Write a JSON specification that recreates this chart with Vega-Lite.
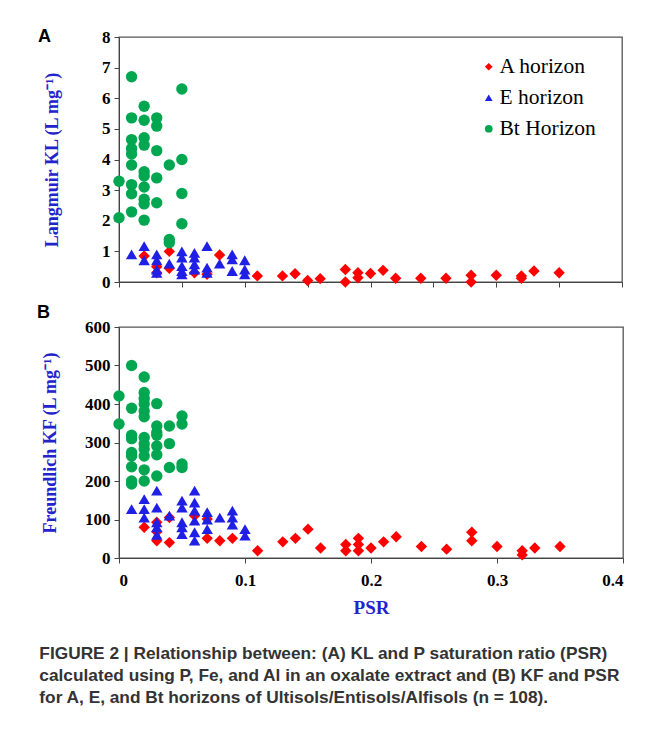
{
  "$schema": "https://vega.github.io/schema/vega-lite/v6.json",
  "background": "white",
  "padding": {"left": 36, "top": 27, "right": 5, "bottom": 5},
  "datasets": {
    "kl": [
      {"h":"A horizon","psr":0.02,"k":0.85},{"h":"A horizon","psr":0.03,"k":0.5},{"h":"A horizon","psr":0.03,"k":0.3},{"h":"A horizon","psr":0.04,"k":1.0},{"h":"A horizon","psr":0.04,"k":0.45},{"h":"A horizon","psr":0.06,"k":0.3},{"h":"A horizon","psr":0.07,"k":0.25},{"h":"A horizon","psr":0.08,"k":0.88},{"h":"A horizon","psr":0.11,"k":0.2},{"h":"A horizon","psr":0.13,"k":0.2},{"h":"A horizon","psr":0.14,"k":0.27},{"h":"A horizon","psr":0.15,"k":0.05},{"h":"A horizon","psr":0.16,"k":0.11},{"h":"A horizon","psr":0.18,"k":0.41},{"h":"A horizon","psr":0.18,"k":0.0},{"h":"A horizon","psr":0.19,"k":0.3},{"h":"A horizon","psr":0.19,"k":0.14},{"h":"A horizon","psr":0.2,"k":0.28},{"h":"A horizon","psr":0.21,"k":0.38},{"h":"A horizon","psr":0.22,"k":0.12},{"h":"A horizon","psr":0.24,"k":0.12},{"h":"A horizon","psr":0.26,"k":0.12},{"h":"A horizon","psr":0.28,"k":0.22},{"h":"A horizon","psr":0.28,"k":0.0},{"h":"A horizon","psr":0.3,"k":0.22},{"h":"A horizon","psr":0.32,"k":0.2},{"h":"A horizon","psr":0.32,"k":0.12},{"h":"A horizon","psr":0.33,"k":0.36},{"h":"A horizon","psr":0.35,"k":0.3},
      {"h":"E horizon","psr":0.01,"k":0.9},{"h":"E horizon","psr":0.02,"k":1.17},{"h":"E horizon","psr":0.02,"k":0.71},{"h":"E horizon","psr":0.03,"k":0.9},{"h":"E horizon","psr":0.03,"k":0.71},{"h":"E horizon","psr":0.03,"k":0.41},{"h":"E horizon","psr":0.03,"k":0.3},{"h":"E horizon","psr":0.04,"k":0.6},{"h":"E horizon","psr":0.05,"k":1.0},{"h":"E horizon","psr":0.05,"k":0.8},{"h":"E horizon","psr":0.05,"k":0.52},{"h":"E horizon","psr":0.05,"k":0.36},{"h":"E horizon","psr":0.05,"k":0.25},{"h":"E horizon","psr":0.06,"k":0.95},{"h":"E horizon","psr":0.06,"k":0.8},{"h":"E horizon","psr":0.06,"k":0.58},{"h":"E horizon","psr":0.06,"k":0.41},{"h":"E horizon","psr":0.07,"k":1.17},{"h":"E horizon","psr":0.07,"k":0.47},{"h":"E horizon","psr":0.07,"k":0.3},{"h":"E horizon","psr":0.08,"k":0.6},{"h":"E horizon","psr":0.09,"k":0.9},{"h":"E horizon","psr":0.09,"k":0.74},{"h":"E horizon","psr":0.09,"k":0.36},{"h":"E horizon","psr":0.1,"k":0.71},{"h":"E horizon","psr":0.1,"k":0.41},{"h":"E horizon","psr":0.1,"k":0.25},
      {"h":"Bt Horizon","psr":0.01,"k":6.7},{"h":"Bt Horizon","psr":0.05,"k":6.3},{"h":"Bt Horizon","psr":0.02,"k":5.74},{"h":"Bt Horizon","psr":0.01,"k":5.36},{"h":"Bt Horizon","psr":0.02,"k":5.28},{"h":"Bt Horizon","psr":0.03,"k":5.36},{"h":"Bt Horizon","psr":0.03,"k":5.09},{"h":"Bt Horizon","psr":0.01,"k":4.65},{"h":"Bt Horizon","psr":0.02,"k":4.71},{"h":"Bt Horizon","psr":0.02,"k":4.47},{"h":"Bt Horizon","psr":0.01,"k":4.36},{"h":"Bt Horizon","psr":0.01,"k":4.18},{"h":"Bt Horizon","psr":0.03,"k":4.29},{"h":"Bt Horizon","psr":0.01,"k":3.82},{"h":"Bt Horizon","psr":0.04,"k":3.82},{"h":"Bt Horizon","psr":0.05,"k":4.0},{"h":"Bt Horizon","psr":0.02,"k":3.6},{"h":"Bt Horizon","psr":0.02,"k":3.46},{"h":"Bt Horizon","psr":0.0,"k":3.29},{"h":"Bt Horizon","psr":0.03,"k":3.4},{"h":"Bt Horizon","psr":0.01,"k":3.18},{"h":"Bt Horizon","psr":0.02,"k":3.1},{"h":"Bt Horizon","psr":0.01,"k":2.88},{"h":"Bt Horizon","psr":0.05,"k":2.89},{"h":"Bt Horizon","psr":0.02,"k":2.7},{"h":"Bt Horizon","psr":0.02,"k":2.55},{"h":"Bt Horizon","psr":0.03,"k":2.59},{"h":"Bt Horizon","psr":0.01,"k":2.29},{"h":"Bt Horizon","psr":0.0,"k":2.1},{"h":"Bt Horizon","psr":0.02,"k":2.02},{"h":"Bt Horizon","psr":0.05,"k":1.9},{"h":"Bt Horizon","psr":0.04,"k":1.39},{"h":"Bt Horizon","psr":0.04,"k":1.28}
    ],
    "kf": [
      {"h":"A horizon","psr":0.02,"k":80},{"h":"A horizon","psr":0.03,"k":93},{"h":"A horizon","psr":0.03,"k":68},{"h":"A horizon","psr":0.03,"k":45},{"h":"A horizon","psr":0.04,"k":105},{"h":"A horizon","psr":0.04,"k":40},{"h":"A horizon","psr":0.06,"k":110},{"h":"A horizon","psr":0.07,"k":101},{"h":"A horizon","psr":0.07,"k":51},{"h":"A horizon","psr":0.08,"k":45},{"h":"A horizon","psr":0.09,"k":51},{"h":"A horizon","psr":0.11,"k":19},{"h":"A horizon","psr":0.13,"k":42},{"h":"A horizon","psr":0.14,"k":51},{"h":"A horizon","psr":0.15,"k":75},{"h":"A horizon","psr":0.16,"k":26},{"h":"A horizon","psr":0.18,"k":35},{"h":"A horizon","psr":0.18,"k":19},{"h":"A horizon","psr":0.19,"k":51},{"h":"A horizon","psr":0.19,"k":35},{"h":"A horizon","psr":0.19,"k":19},{"h":"A horizon","psr":0.2,"k":26},{"h":"A horizon","psr":0.21,"k":42},{"h":"A horizon","psr":0.22,"k":55},{"h":"A horizon","psr":0.24,"k":30},{"h":"A horizon","psr":0.26,"k":23},{"h":"A horizon","psr":0.28,"k":67},{"h":"A horizon","psr":0.28,"k":45},{"h":"A horizon","psr":0.3,"k":30},{"h":"A horizon","psr":0.32,"k":19},{"h":"A horizon","psr":0.32,"k":8},{"h":"A horizon","psr":0.33,"k":26},{"h":"A horizon","psr":0.35,"k":30},
      {"h":"E horizon","psr":0.01,"k":127},{"h":"E horizon","psr":0.02,"k":153},{"h":"E horizon","psr":0.02,"k":127},{"h":"E horizon","psr":0.02,"k":105},{"h":"E horizon","psr":0.03,"k":175},{"h":"E horizon","psr":0.03,"k":131},{"h":"E horizon","psr":0.03,"k":93},{"h":"E horizon","psr":0.03,"k":80},{"h":"E horizon","psr":0.03,"k":60},{"h":"E horizon","psr":0.04,"k":110},{"h":"E horizon","psr":0.05,"k":149},{"h":"E horizon","psr":0.05,"k":131},{"h":"E horizon","psr":0.05,"k":93},{"h":"E horizon","psr":0.05,"k":80},{"h":"E horizon","psr":0.05,"k":62},{"h":"E horizon","psr":0.06,"k":175},{"h":"E horizon","psr":0.06,"k":144},{"h":"E horizon","psr":0.06,"k":123},{"h":"E horizon","psr":0.06,"k":97},{"h":"E horizon","psr":0.06,"k":67},{"h":"E horizon","psr":0.06,"k":45},{"h":"E horizon","psr":0.07,"k":119},{"h":"E horizon","psr":0.07,"k":100},{"h":"E horizon","psr":0.07,"k":75},{"h":"E horizon","psr":0.08,"k":105},{"h":"E horizon","psr":0.09,"k":123},{"h":"E horizon","psr":0.09,"k":105},{"h":"E horizon","psr":0.09,"k":87},{"h":"E horizon","psr":0.1,"k":75},{"h":"E horizon","psr":0.1,"k":58},
      {"h":"Bt Horizon","psr":0.01,"k":500},{"h":"Bt Horizon","psr":0.02,"k":470},{"h":"Bt Horizon","psr":0.0,"k":421},{"h":"Bt Horizon","psr":0.02,"k":430},{"h":"Bt Horizon","psr":0.02,"k":414},{"h":"Bt Horizon","psr":0.02,"k":400},{"h":"Bt Horizon","psr":0.01,"k":389},{"h":"Bt Horizon","psr":0.03,"k":401},{"h":"Bt Horizon","psr":0.02,"k":382},{"h":"Bt Horizon","psr":0.02,"k":367},{"h":"Bt Horizon","psr":0.05,"k":369},{"h":"Bt Horizon","psr":0.05,"k":348},{"h":"Bt Horizon","psr":0.0,"k":348},{"h":"Bt Horizon","psr":0.03,"k":343},{"h":"Bt Horizon","psr":0.04,"k":343},{"h":"Bt Horizon","psr":0.03,"k":326},{"h":"Bt Horizon","psr":0.01,"k":319},{"h":"Bt Horizon","psr":0.01,"k":310},{"h":"Bt Horizon","psr":0.02,"k":313},{"h":"Bt Horizon","psr":0.03,"k":319},{"h":"Bt Horizon","psr":0.02,"k":296},{"h":"Bt Horizon","psr":0.04,"k":297},{"h":"Bt Horizon","psr":0.03,"k":291},{"h":"Bt Horizon","psr":0.02,"k":283},{"h":"Bt Horizon","psr":0.01,"k":274},{"h":"Bt Horizon","psr":0.01,"k":265},{"h":"Bt Horizon","psr":0.02,"k":265},{"h":"Bt Horizon","psr":0.03,"k":268},{"h":"Bt Horizon","psr":0.01,"k":237},{"h":"Bt Horizon","psr":0.02,"k":229},{"h":"Bt Horizon","psr":0.04,"k":235},{"h":"Bt Horizon","psr":0.05,"k":244},{"h":"Bt Horizon","psr":0.05,"k":235},{"h":"Bt Horizon","psr":0.02,"k":200},{"h":"Bt Horizon","psr":0.01,"k":200},{"h":"Bt Horizon","psr":0.01,"k":192},{"h":"Bt Horizon","psr":0.03,"k":213}
    ]
  },
  "config": {
    "view": {"stroke": "#555555", "strokeWidth": 1.3},
    "axis": {
      "labelFont": "Liberation Serif", "labelFontWeight": "bold", "labelFontSize": 17, "labelColor": "black",
      "titleFont": "Liberation Serif", "titleFontWeight": "bold", "titleFontSize": 18, "titleColor": "#2323cc",
      "domainColor": "#444444", "tickColor": "#444444", "tickSize": 5, "grid": false, "labelPadding": 4
    }
  },
  "title": {
    "text": ["FIGURE 2 | Relationship between: (A) KL and P saturation ratio (PSR)", "calculated using P, Fe, and Al in an oxalate extract and (B) KF and PSR", "for A, E, and Bt horizons of Ultisols/Entisols/Alfisols (n = 108)."],
    "orient": "bottom", "anchor": "start", "frame": "bounds",
    "font": "Liberation Sans", "fontWeight": "bold", "fontSize": 17.3, "color": "#333333",
    "lineHeight": 22, "offset": 27, "dx": 3
  },
  "spacing": 12,
  "resolve": {"scale": {"color": "independent", "shape": "independent"}, "legend": {"color": "independent", "shape": "independent"}},
  "vconcat": [
    {
      "width": 503, "height": 245,
      "title": {"text": "A", "anchor": "start", "frame": "group", "dx": -81, "offset": -18, "font": "Liberation Sans", "fontWeight": "bold", "fontSize": 18, "color": "black"},
      "data": {"name": "kl"},
      "mark": {"type": "point", "filled": true, "opacity": 1, "size": 130},
      "encoding": {
        "x": {"field": "psr", "type": "quantitative", "scale": {"domain": [0, 0.4], "nice": false}, "axis": {"title": null, "labels": false, "values": [0, 0.05, 0.1, 0.15, 0.2, 0.25, 0.3, 0.35, 0.4]}},
        "y": {"field": "k", "type": "quantitative", "scale": {"domain": [0, 8], "nice": false}, "axis": {"title": "Langmuir KL (L mg⁻¹)", "values": [0, 1, 2, 3, 4, 5, 6, 7, 8], "titlePadding": 40}},
        "color": {"field": "h", "type": "nominal", "scale": {"domain": ["A horizon", "E horizon", "Bt Horizon"], "range": ["#ff0000", "#1f1fe6", "#00a650"]},
          "legend": {"title": null, "orient": "none", "legendX": 359, "legendY": 19, "padding": 0, "labelFont": "Liberation Serif", "labelFontSize": 21.5, "labelColor": "black", "symbolSize": 60, "rowPadding": 8, "labelOffset": 0}},
        "shape": {"field": "h", "type": "nominal", "scale": {"domain": ["A horizon", "E horizon", "Bt Horizon"], "range": ["diamond", "triangle-up", "circle"]}}
      }
    },
    {
      "width": 504, "height": 231,
      "title": {"text": "B", "anchor": "start", "frame": "group", "dx": -82, "offset": -4, "font": "Liberation Sans", "fontWeight": "bold", "fontSize": 18, "color": "black"},
      "data": {"name": "kf"},
      "mark": {"type": "point", "filled": true, "opacity": 1, "size": 130},
      "encoding": {
        "x": {"field": "psr", "type": "quantitative", "scale": {"domain": [0, 0.4], "nice": false}, "axis": {"title": "PSR", "values": [0, 0.1, 0.2, 0.3, 0.4], "format": "~g", "labelPadding": 9, "titlePadding": 10, "titleFontSize": 19}},
        "y": {"field": "k", "type": "quantitative", "scale": {"domain": [0, 600], "nice": false}, "axis": {"title": "Freundlich KF (L mg⁻¹)", "values": [0, 100, 200, 300, 400, 500, 600], "titlePadding": 25}},
        "color": {"field": "h", "type": "nominal", "scale": {"domain": ["A horizon", "E horizon", "Bt Horizon"], "range": ["#ff0000", "#1f1fe6", "#00a650"]}, "legend": null},
        "shape": {"field": "h", "type": "nominal", "scale": {"domain": ["A horizon", "E horizon", "Bt Horizon"], "range": ["diamond", "triangle-up", "circle"]}, "legend": null}
      }
    }
  ]
}
